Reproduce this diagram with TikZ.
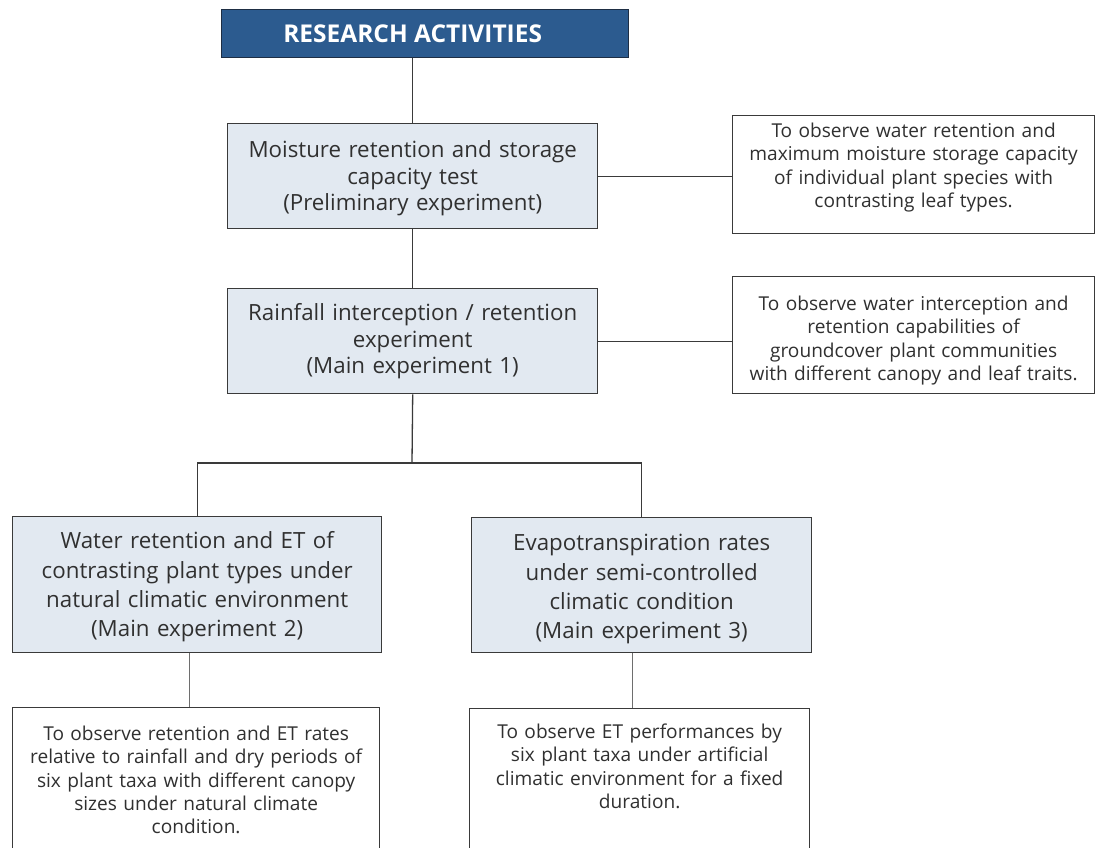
\documentclass[tikz,border=0pt]{standalone}
\usepackage{fontspec}
\setmainfont{Open Sans}[Ligatures=NoCommon]
\definecolor{titlefill}{HTML}{2C5B8F}
\definecolor{titleline}{HTML}{1E2E44}
\definecolor{boxfill}{HTML}{E2E9F1}
\definecolor{boxline}{HTML}{3A3A3A}
\definecolor{textcol}{HTML}{303030}
\definecolor{greyline}{HTML}{6E6E6E}
\begin{document}
\begin{tikzpicture}[x=1pt,y=-1pt,
  titlebox/.style={draw=titleline, line width=1.3pt, fill=titlefill, text=white,
    font=\fontsize{24.5}{28}\selectfont\bfseries, anchor=north west, inner sep=0pt},
  mainbox/.style={draw=boxline, line width=1.4pt, fill=boxfill, text=textcol, align=center,
    font=\fontsize{22.3}{26.5}\selectfont, anchor=north west, inner sep=0pt},
  tallbox/.style={mainbox, font=\fontsize{22.3}{29.3}\selectfont},
  notebox/.style={draw=boxline, line width=1.3pt, fill=white, text=textcol, align=center,
    font=\fontsize{19.1}{23.3}\selectfont, anchor=north west, inner sep=0pt},
  link/.style={draw=boxline, line width=1.3pt},
  greylink/.style={draw=greyline, line width=1.4pt}
]
\useasboundingbox (0,0) rectangle (1098,847);
\clip (0,0) rectangle (1098,847);
\fill[white] (0,0) rectangle (1098,847);

\node[titlebox, minimum width=407pt, minimum height=48pt] (title) at (221,9) {\hspace*{-25pt}RESEARCH ACTIVITIES};

\node[mainbox, minimum width=370pt, text width=364pt, text height=34pt, text depth=71pt] (b1) at (227,123)
  {Moisture retention and storage\\capacity test\\(Preliminary experiment)};
\node[notebox, minimum width=362pt, text width=356pt, text height=22pt, text depth=96pt] (n1) at (732,115)
  {To observe water retention and\\maximum moisture storage capacity\\of individual plant species with\\contrasting leaf types.};

\node[mainbox, minimum width=370pt, text width=364pt, text height=32pt, text depth=73pt] (b2) at (227,288)
  {Rainfall interception / retention\\experiment\\(Main experiment 1)};
\node[notebox, minimum width=362pt, text width=356pt, text height=34pt, text depth=83pt] (n2) at (732,276)
  {To observe water interception and\\retention capabilities of\\groundcover plant communities\\with different canopy and leaf traits.};

\node[tallbox, minimum width=369pt, text width=363pt, text height=32pt, text depth=104pt] (b3) at (12,516)
  {Water retention and ET of\\contrasting plant types under\\natural climatic environment\\(Main experiment 2)};
\node[tallbox, minimum width=340pt, text width=334pt, text height=33pt, text depth=102pt] (b4) at (471,517)
  {Evapotranspiration rates\\under semi-controlled\\climatic condition\\(Main experiment 3)};

\node[notebox, minimum width=367pt, text width=361pt, text height=33pt, text depth=160pt] (n3) at (12,707)
  {To observe retention and ET rates\\relative to rainfall and dry periods of\\six plant taxa with different canopy\\sizes under natural climate\\condition.};
\node[notebox, minimum width=340pt, text width=334pt, text height=30pt, text depth=160pt] (n4) at (469,708)
  {To observe ET performances by\\six plant taxa under artificial\\climatic environment for a fixed\\duration.};

\coordinate (split) at (412,463);

\draw[link] (b1.north) -- (b1.north |- title.south);
\draw[link] (b1.south) -- (b2.north);
\draw[link] (b1.east) -- (b1.east -| n1.west);
\draw[link] (b2.east) -- (b2.east -| n2.west);
\draw[link] (b2.south) -- (split);
\draw[link] (b3.north) -- (b3.north |- split) -- (b4.north |- split) -- (b4.north);
\draw[greylink] ([xshift=-8pt]b3.south) -- ([xshift=-8pt]b3.south |- n3.north);
\draw[greylink] ([xshift=-9pt]b4.south) -- ([xshift=-9pt]b4.south |- n4.north);
\end{tikzpicture}
\end{document}
